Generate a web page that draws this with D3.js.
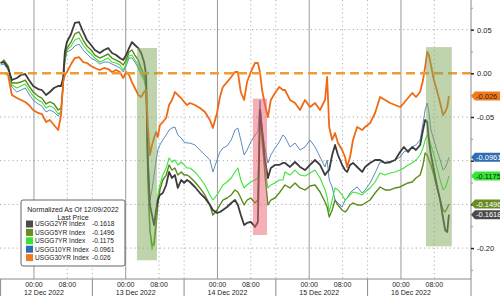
<!DOCTYPE html>
<html>
<head>
<meta charset="utf-8">
<script src="https://cdn.jsdelivr.net/npm/d3@7"></script>
<style>
  body { margin: 0; background: #fff; }
  svg text { font-family: "Liberation Sans", Arial, sans-serif; }
</style>
</head>
<body>
<div class="chart"></div>
<script>
// session hours on the compressed Bloomberg time axis (each day = 22h, 00:00 at +8h)
var hrs = [0,0.8,1.8,2.7,3.9,4.9,5.9,6.8,7.8,9.0,9.9,10.9,11.8,12.8,13.8,14.5,15.0,15.4,15.9,16.9,17.8,18.8,19.8,20.7,21.7,
  22.6,23.8,24.8,25.8,26.7,27.7,28.6,29.4,30.1,30.8,31.5,32.2,33.0,33.7,34.4,34.9,35.3,35.8,36.3,36.8,37.3,37.7,38.2,38.9,39.7,40.4,41.1,41.8,42.5,43.3,44.0,44.7,
  45.4,46.6,47.8,49.0,50.2,50.9,51.9,52.6,53.3,54.3,55.3,56.2,56.9,57.6,58.4,59.1,60.0,61.0,61.7,62.2,62.7,63.4,64.1,64.8,65.8,66.8,67.7,
  68.2,69.4,70.6,71.8,73.0,74.2,75.4,76.6,77.8,78.3,78.8,79.5,80.2,80.9,81.9,82.6,83.1,83.8,84.5,85.5,86.7,87.4,88.6,89.8,
  91.0,92.2,93.4,94.6,95.8,96.7,97.7,98.7,99.6,100.6,101.3,101.8,102.3,102.7,103.2,103.9,104.6,105.4,106.1,106.6,107.1,107.5];

var usgg2 = [0.0118,0.0129,0.0061,-0.0077,-0.0054,-0.0019,-0.0008,-0.0077,-0.0145,-0.0180,-0.0191,-0.0248,-0.0214,-0.0168,-0.0145,-0.0145,-0.0054,0.0244,0.0358,0.0450,0.0576,0.0587,0.0473,0.0381,0.0324,
  0.0267,0.0232,0.0267,0.0289,0.0232,0.0209,0.0175,0.0152,0.0209,0.0289,0.0358,0.0324,0.0289,0.0232,0.0129,-0.0019,-0.0992,-0.1507,-0.1621,-0.1736,-0.1564,-0.1450,-0.1392,-0.1370,-0.1278,-0.1129,-0.1198,-0.1164,-0.1312,-0.1221,-0.1255,-0.1221,
  -0.1244,-0.1301,-0.1370,-0.1427,-0.1507,-0.1564,-0.1598,-0.1587,-0.1564,-0.1530,-0.1484,-0.1450,-0.1507,-0.1621,-0.1736,-0.1713,-0.1701,-0.1758,-0.1701,-0.0420,-0.0649,-0.0992,-0.1198,-0.1084,-0.1049,-0.1049,-0.1026,
  -0.1026,-0.1072,-0.1015,-0.1072,-0.1107,-0.1049,-0.0992,-0.1049,-0.1164,-0.1129,-0.1107,-0.0935,-0.0820,-0.0935,-0.1049,-0.1107,-0.1129,-0.1049,-0.1026,-0.1072,-0.1129,-0.1072,-0.1026,-0.0992,
  -0.0992,-0.1026,-0.1015,-0.0992,-0.0900,-0.0843,-0.0900,-0.0843,-0.0878,-0.0820,-0.0649,-0.0534,-0.0557,-0.0763,-0.0935,-0.1107,-0.1278,-0.1450,-0.1656,-0.1793,-0.1816,-0.1618];

var usgg5 = [0.0118,0.0152,0.0084,-0.0111,-0.0111,-0.0100,-0.0077,-0.0145,-0.0214,-0.0260,-0.0283,-0.0351,-0.0328,-0.0351,-0.0420,-0.0397,-0.0134,0.0175,0.0289,0.0358,0.0450,0.0473,0.0381,0.0312,0.0267,
  0.0209,0.0175,0.0198,0.0221,0.0175,0.0152,0.0129,0.0095,0.0152,0.0244,0.0267,0.0209,0.0152,0.0061,-0.0019,-0.0134,-0.1221,-0.1793,-0.1965,-0.1965,-0.1736,-0.1507,-0.1335,-0.1221,-0.1164,-0.1049,-0.1107,-0.1084,-0.1164,-0.1129,-0.1164,-0.1164,
  -0.1187,-0.1244,-0.1312,-0.1392,-0.1507,-0.1621,-0.1564,-0.1507,-0.1450,-0.1427,-0.1392,-0.1335,-0.1358,-0.1427,-0.1507,-0.1450,-0.1427,-0.1484,-0.1450,-0.0420,-0.0706,-0.1164,-0.1507,-0.1450,-0.1427,-0.1370,-0.1312,
  -0.1278,-0.1312,-0.1255,-0.1312,-0.1335,-0.1290,-0.1278,-0.1358,-0.1473,-0.1530,-0.1644,-0.1564,-0.1450,-0.1507,-0.1564,-0.1587,-0.1564,-0.1507,-0.1484,-0.1507,-0.1507,-0.1484,-0.1450,-0.1370,
  -0.1301,-0.1335,-0.1335,-0.1312,-0.1301,-0.1278,-0.1255,-0.1244,-0.1198,-0.1164,-0.1049,-0.0912,-0.0935,-0.0992,-0.1049,-0.1164,-0.1301,-0.1450,-0.1564,-0.1587,-0.1541,-0.1496];

var usgg7 = [0.0118,0.0129,0.0061,-0.0134,-0.0168,-0.0145,-0.0122,-0.0191,-0.0260,-0.0305,-0.0328,-0.0397,-0.0374,-0.0397,-0.0466,-0.0443,-0.0134,0.0152,0.0267,0.0312,0.0381,0.0404,0.0324,0.0267,0.0221,
  0.0175,0.0129,0.0152,0.0175,0.0129,0.0118,0.0095,0.0038,0.0106,0.0198,0.0209,0.0152,0.0095,0.0015,-0.0054,-0.0168,-0.1107,-0.1793,-0.2022,-0.1907,-0.1621,-0.1392,-0.1278,-0.1164,-0.1084,-0.0969,-0.1015,-0.0992,-0.1049,-0.1015,-0.1049,-0.1084,
  -0.1084,-0.1129,-0.1198,-0.1278,-0.1392,-0.1450,-0.1392,-0.1335,-0.1278,-0.1244,-0.1198,-0.1129,-0.1084,-0.1221,-0.1312,-0.1278,-0.1244,-0.1221,-0.1198,-0.0534,-0.0820,-0.1107,-0.1312,-0.1278,-0.1255,-0.1221,-0.1221,
  -0.1129,-0.1164,-0.1107,-0.1164,-0.1175,-0.1141,-0.1107,-0.1198,-0.1335,-0.1415,-0.1587,-0.1450,-0.1312,-0.1335,-0.1392,-0.1450,-0.1427,-0.1392,-0.1358,-0.1370,-0.1392,-0.1358,-0.1312,-0.1244,
  -0.1141,-0.1164,-0.1141,-0.1129,-0.1107,-0.1084,-0.1049,-0.1026,-0.0992,-0.0935,-0.0855,-0.0763,-0.0706,-0.0740,-0.0820,-0.0935,-0.1072,-0.1221,-0.1335,-0.1312,-0.1244,-0.1175];

var usgg10 = [0.0095,0.0106,0.0038,-0.0157,-0.0214,-0.0191,-0.0168,-0.0237,-0.0305,-0.0351,-0.0374,-0.0443,-0.0420,-0.0443,-0.0489,-0.0443,-0.0134,0.0129,0.0244,0.0267,0.0312,0.0335,0.0267,0.0221,0.0175,
  0.0152,0.0106,0.0129,0.0129,0.0106,0.0084,0.0061,0.0015,0.0084,0.0175,0.0175,0.0129,0.0061,-0.0019,-0.0077,-0.0191,-0.0878,-0.1450,-0.1335,-0.1164,-0.0992,-0.0878,-0.0820,-0.0763,-0.0706,-0.0649,-0.0626,-0.0614,-0.0706,-0.0740,-0.0786,-0.0798,
  -0.0798,-0.0820,-0.0878,-0.0935,-0.0992,-0.1129,-0.0992,-0.0900,-0.0855,-0.0832,-0.0763,-0.0649,-0.0626,-0.0763,-0.0935,-0.0878,-0.0786,-0.0706,-0.0672,-0.0305,-0.0626,-0.0855,-0.1026,-0.0935,-0.0855,-0.0786,-0.0706,
  -0.0729,-0.0843,-0.0798,-0.0878,-0.0843,-0.0763,-0.0843,-0.0958,-0.1072,-0.0992,-0.1221,-0.1301,-0.1450,-0.1484,-0.1530,-0.1450,-0.1427,-0.1370,-0.1335,-0.1301,-0.1370,-0.1335,-0.1255,-0.1141,
  -0.1015,-0.1026,-0.1026,-0.0992,-0.0958,-0.0900,-0.0878,-0.0843,-0.0820,-0.0763,-0.0569,-0.0420,-0.0340,-0.0443,-0.0649,-0.0763,-0.0878,-0.0992,-0.1107,-0.1084,-0.1026,-0.0961];

var usgg30 = [0.0003,0.0003,-0.0019,-0.0248,-0.0283,-0.0305,-0.0328,-0.0363,-0.0420,-0.0454,-0.0466,-0.0557,-0.0534,-0.0592,-0.0649,-0.0477,-0.0100,-0.0019,0.0015,0.0106,0.0175,0.0186,0.0129,0.0118,0.0084,
  0.0061,0.0038,0.0061,0.0049,0.0015,0.0038,0.0015,-0.0054,0.0015,-0.0019,-0.0100,-0.0168,-0.0248,-0.0271,-0.0214,-0.0191,-0.0592,-0.0935,-0.0820,-0.0740,-0.0672,-0.0729,-0.0592,-0.0557,-0.0511,-0.0363,-0.0305,-0.0214,-0.0248,-0.0283,-0.0328,-0.0363,
  -0.0340,-0.0363,-0.0397,-0.0443,-0.0534,-0.0626,-0.0454,-0.0271,-0.0157,-0.0100,-0.0042,0.0015,0.0015,-0.0214,-0.0305,-0.0100,0.0015,0.0118,0.0118,0.0015,-0.0191,-0.0363,-0.0500,-0.0305,-0.0225,-0.0157,-0.0191,
  -0.0191,-0.0305,-0.0340,-0.0420,-0.0305,-0.0386,-0.0340,-0.0420,-0.0305,-0.0042,-0.0614,-0.0763,-0.0683,-0.0798,-0.0878,-0.0958,-0.1072,-0.0958,-0.0763,-0.0614,-0.0649,-0.0614,-0.0569,-0.0454,
  -0.0271,-0.0305,-0.0340,-0.0363,-0.0386,-0.0340,-0.0283,-0.0225,-0.0271,-0.0214,-0.0077,0.0072,0.0244,0.0209,0.0095,-0.0077,-0.0191,-0.0340,-0.0477,-0.0443,-0.0386,-0.026];

var seriesNames = ["USGG2YR Index", "USGG5YR Index", "USGG7YR Index", "USGG10YR Index", "USGG30YR Index"];
var seriesValues = [usgg2, usgg5, usgg7, usgg10, usgg30];

var dayLabels = ["12 Dec 2022", "13 Dec 2022", "14 Dec 2022", "15 Dec 2022", "16 Dec 2022"];
var hourLabels = ["00:00", "08:00"];
var hourOffsets = [8, 16];       // session hours after day start
var sessionHours = 22;

var yTicks = [0.05, 0, -0.05, -0.10, -0.15, -0.20];
var yMinorTicks = [0.075, 0.025, -0.025, -0.075, -0.125, -0.175, -0.225];

// shaded boxes: [start hr, end hr, top value, bottom value]
var boxesGreen = [[32.7, 37.5, 0.029, -0.214], [102.0, 108.2, 0.030, -0.198]];
var boxesPink = [[60.5, 63.9, -0.029, -0.185]];

// styles
var colors = ["#3b3b3b", "#5b8a1c", "#3ee33a", "#4a7db5", "#ee6a14"];
var widths = [1.8, 1.4, 1.1, 0.9, 1.8];
var tagColors = ["#4b4b4b", "#6a8d22", "#36e436", "#2f6db3", "#f07a1e"];
var tagText = ["#fff", "#fff", "#1a1a1a", "#fff", "#3a2010"];

var svgWidth = 500, svgHeight = 296;
var plotRight = 471, plotBottom = 279;

var svg = d3.select(".chart").append("svg")
    .attr("width", svgWidth)
    .attr("height", svgHeight);

var x = d3.scaleLinear().domain([0, 112.8]).range([0.6, plotRight]);
var y = d3.scaleLinear().domain([0.0839, -0.2354]).range([0, plotBottom]);

var lastVal = function(s) { return seriesValues[s][seriesValues[s].length - 1]; };

// horizontal dotted grid
svg.append("g").selectAll("line")
    .data(yTicks.filter(function(d) { return d !== 0; }))
    .enter().append("line")
    .attr("x1", 0).attr("x2", plotRight)
    .attr("y1", function(d) { return y(d); })
    .attr("y2", function(d) { return y(d); })
    .attr("stroke", "#a8a8a8")
    .attr("stroke-dasharray", "1.2,3");

// vertical grid
var dayIdx = d3.range(dayLabels.length);
var vg = svg.append("g");
dayIdx.forEach(function(d) {
  var start = d * sessionHours;
  if (d > 0) {
    vg.append("line")
      .attr("x1", x(start)).attr("x2", x(start))
      .attr("y1", 0).attr("y2", plotBottom)
      .attr("stroke", "#b0b0b0").attr("stroke-dasharray", "1.2,3");
  }
  hourOffsets.forEach(function(h, i) {
    vg.append("line")
      .attr("x1", x(start + h)).attr("x2", x(start + h))
      .attr("y1", 0).attr("y2", plotBottom)
      .attr("stroke", i === 0 ? "#9a9a9a" : "#b0b0b0")
      .attr("stroke-dasharray", i === 0 ? null : "1.2,3");
  });
});

// series lines
var line = d3.line()
    .x(function(d, i) { return x(hrs[i]); })
    .y(function(d) { return y(d); });

var drawOrder = [3, 2, 1, 0, 4];
drawOrder.forEach(function(s) {
  svg.append("path")
    .datum(seriesValues[s])
    .attr("fill", "none")
    .attr("stroke", colors[s])
    .attr("stroke-width", widths[s])
    .attr("stroke-linejoin", "round")
    .attr("d", line);
});

// dashed zero line
svg.append("line")
    .attr("x1", 0).attr("x2", plotRight)
    .attr("y1", y(0)).attr("y2", y(0))
    .attr("stroke", "#f29a34")
    .attr("stroke-width", 2.6)
    .attr("stroke-dasharray", "9,5");

// shaded boxes
function drawBoxes(list, fill, op) {
  svg.append("g").selectAll("rect")
    .data(list).enter().append("rect")
    .attr("x", function(d) { return x(d[0]); })
    .attr("width", function(d) { return x(d[1]) - x(d[0]); })
    .attr("y", function(d) { return y(d[2]); })
    .attr("height", function(d) { return y(d[3]) - y(d[2]); })
    .attr("fill", fill)
    .attr("opacity", op);
}
drawBoxes(boxesGreen, "#7fa85a", 0.5);
drawBoxes(boxesPink, "#ea5f70", 0.5);

// bottom axis
svg.append("line")
    .attr("x1", 0).attr("x2", plotRight)
    .attr("y1", plotBottom).attr("y2", plotBottom)
    .attr("stroke", "#8a8a8a");

var xa = svg.append("g").attr("font-size", 7).attr("fill", "#222");
dayIdx.forEach(function(d) {
  var start = d * sessionHours;
  xa.append("line")
    .attr("x1", x(start)).attr("x2", x(start))
    .attr("y1", plotBottom).attr("y2", svgHeight)
    .attr("stroke", "#8a8a8a");
  hourLabels.forEach(function(lab, i) {
    xa.append("text")
      .attr("x", x(start + hourOffsets[i]))
      .attr("y", 287)
      .attr("text-anchor", "middle")
      .text(lab);
  });
  xa.append("text")
    .attr("x", x(start + hourOffsets[0]) + 10)
    .attr("y", 295)
    .attr("text-anchor", "middle")
    .text(dayLabels[d]);
});

// right axis
svg.append("line")
    .attr("x1", plotRight).attr("x2", plotRight)
    .attr("y1", 0).attr("y2", svgHeight)
    .attr("stroke", "#8a8a8a");

// tick labels that sit under a value tag are covered in the original
var covered = yTicks.filter(function(t) {
  return seriesValues.some(function(v, s) { return Math.abs(y(t) - y(lastVal(s))) < 7; });
});

var yAxis = d3.axisRight(y)
    .tickValues(yTicks)
    .tickSize(3)
    .tickPadding(3)
    .tickFormat(function(d) { return covered.indexOf(d) >= 0 ? "" : d.toFixed(2); });

var ya = svg.append("g")
    .attr("transform", "translate(" + plotRight + ",0)")
    .call(yAxis);
ya.select(".domain").remove();
ya.selectAll(".tick line").attr("stroke", "#222").attr("stroke-width", 1.5);
ya.selectAll(".tick text")
    .attr("font-family", "Liberation Sans, Arial, sans-serif")
    .attr("font-size", 7.5).attr("fill", "#222");

var yMinor = svg.append("g")
    .attr("transform", "translate(" + plotRight + ",0)")
    .call(d3.axisRight(y).tickValues(yMinorTicks).tickSize(2).tickFormat(""));
yMinor.select(".domain").remove();
yMinor.selectAll(".tick line").attr("stroke", "#999");

// last value tags
var tags = svg.append("g");
seriesValues.forEach(function(vals, s) {
  var v = lastVal(s);
  var ty = y(v);
  tags.append("path")
    .attr("d", "M" + plotRight + "," + ty + "L" + (plotRight + 4) + "," + (ty - 4.5) +
      "H" + svgWidth + "V" + (ty + 4.5) + "H" + (plotRight + 4) + "Z")
    .attr("fill", tagColors[s]);
  tags.append("text")
    .attr("x", plotRight + 5)
    .attr("y", ty + 2.6)
    .attr("font-size", 7.5)
    .attr("fill", tagText[s])
    .text(String(v));
});

// legend
var lg = svg.append("g").attr("font-size", 6.6).attr("fill", "#222");
lg.append("rect")
    .attr("x", 21).attr("y", 200)
    .attr("width", 104).attr("height", 66)
    .attr("rx", 2)
    .attr("fill", "#fff").attr("fill-opacity", 0.92)
    .attr("stroke", "#666");
lg.append("text").attr("x", 73).attr("y", 212).attr("text-anchor", "middle")
    .attr("font-size", 7)
    .text("Normalized As Of 12/09/2022");
lg.append("text").attr("x", 73).attr("y", 219.5).attr("text-anchor", "middle")
    .attr("font-size", 7)
    .text("Last Price");
seriesNames.forEach(function(name, s) {
  var cy = 224 + s * 8.4;
  lg.append("rect")
    .attr("x", 26).attr("y", cy - 3.5)
    .attr("width", 7).attr("height", 7)
    .attr("fill", tagColors[s]);
  lg.append("text").attr("x", 35).attr("y", cy + 2.4).text(name);
  lg.append("text").attr("x", 92).attr("y", cy + 2.4)
    .text(String(lastVal(s)));
});
</script>
</body>
</html>
